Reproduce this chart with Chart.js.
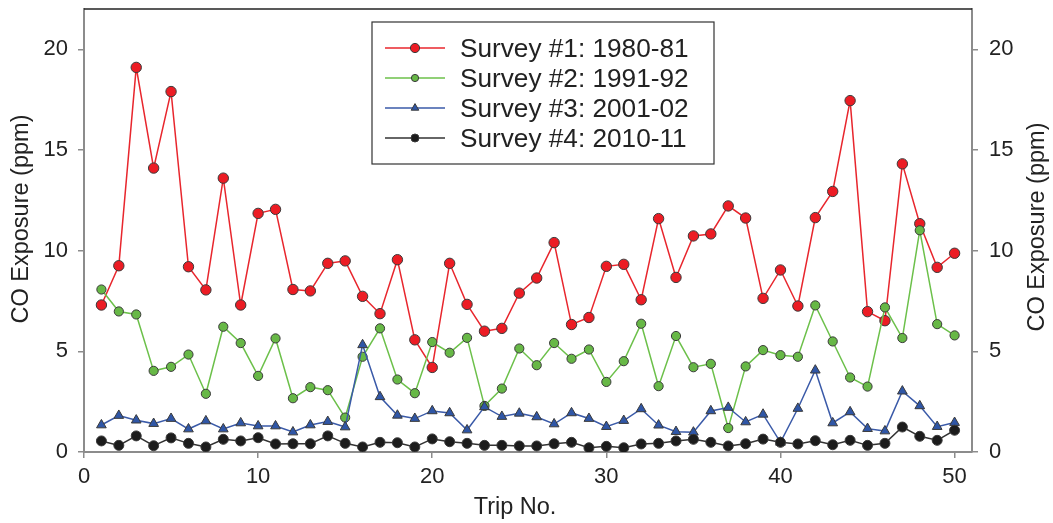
<!DOCTYPE html>
<html><head><meta charset="utf-8">
<script src="https://cdn.jsdelivr.net/npm/chart.js@4.4.1/dist/chart.umd.min.js"></script>
<style>html,body{margin:0;padding:0;background:#fff;}canvas{display:block;}</style>
</head><body>
<canvas id="c" width="1053" height="523"></canvas>
<script>
const trips = [1,2,3,4,5,6,7,8,9,10,11,12,13,14,15,16,17,18,19,20,21,22,23,24,25,26,27,28,29,30,31,32,33,34,35,36,37,38,39,40,41,42,43,44,45,46,47,48,49,50];
const survey1 = [7.3,9.25,19.1,14.1,17.9,9.2,8.05,13.6,7.3,11.85, 12.05,8.07,8.0,9.37,9.49,7.73,6.87,9.55,5.57,4.2, 9.37,7.33,6.0,6.14,7.89,8.64,10.4,6.33,6.68,9.22, 9.32,7.56,11.59,8.67,10.73,10.83,12.22,11.62,7.63,9.04, 7.25,11.64,12.94,17.45,6.97,6.52,14.31,11.34,9.17,9.87];
const survey2 = [8.07,6.98,6.83,4.03,4.23,4.84,2.89,6.22,5.41,3.78, 5.64,2.67,3.22,3.07,1.71,4.73,6.14,3.6,2.92,5.46, 4.93,5.67,2.29,3.15,5.14,4.31,5.41,4.63,5.09,3.48, 4.51,6.37,3.27,5.76,4.21,4.38,1.19,4.25,5.06,4.81, 4.73,7.28,5.49,3.70,3.25,7.18,5.66,11.01,6.35,5.79];
const survey3 = [1.34,1.81,1.58,1.41,1.66,1.14,1.54,1.14,1.44,1.29, 1.29,0.99,1.34,1.51,1.24,5.32,2.74,1.82,1.66,2.04, 1.94,1.09,2.24,1.76,1.92,1.74,1.39,1.94,1.66,1.26, 1.56,2.14,1.33,1.01,0.98,2.04,2.21,1.49,1.87,0.48, 2.16,4.06,1.44,1.99,1.16,1.04,3.02,2.29,1.26,1.46];
const survey4 = [0.55,0.33,0.80,0.31,0.70,0.43,0.25,0.63,0.55,0.71, 0.40,0.41,0.41,0.80,0.43,0.25,0.48,0.46,0.25,0.65, 0.51,0.43,0.33,0.33,0.30,0.30,0.41,0.48,0.21,0.28, 0.21,0.40,0.43,0.55,0.63,0.48,0.30,0.41,0.64,0.48, 0.40,0.56,0.36,0.58,0.33,0.43,1.24,0.78,0.58,1.08];
const seriesLabels = ["Survey #1: 1980-81","Survey #2: 1991-92","Survey #3: 2001-02","Survey #4: 2010-11"];
const xTitle = "Trip No.";
const yTitle = "CO Exposure (ppm)";

const FONT = "'Liberation Sans', Arial, sans-serif";
const AXIS = "#8c8c8c";
const TXT = "#222222";

function pts(vals){ return vals.map((v,i)=>({x:trips[i], y:v})); }

const styles = [
  {line:"#e8262d", fill:"#ec1c24", shape:"circle", r:5.2, lr:4.6, order:4},
  {line:"#6cc04a", fill:"#67b846", shape:"circle", r:4.6, lr:3.6, order:3},
  {line:"#3a5aa8", fill:"#2f56a6", shape:"triangle", r:5.6, lr:4.4, order:2},
  {line:"#333333", fill:"#1c1c1c", shape:"circle", r:5.0, lr:4.0, order:1}
];
const allSeries = [survey1, survey2, survey3, survey4];

const datasets = allSeries.map((s,i)=>({
  label: seriesLabels[i],
  data: pts(s),
  borderColor: styles[i].line,
  backgroundColor: styles[i].fill,
  borderWidth: 1.5,
  pointStyle: styles[i].shape,
  pointRadius: styles[i].r,
  pointBackgroundColor: styles[i].fill,
  pointBorderColor: "#3a3a3a",
  pointBorderWidth: 1,
  tension: 0,
  order: styles[i].order,
  yAxisID: 'y'
}));

function fix(w, h){
  return function(s){
    if (w !== null) s.width = w;
    if (h !== null) s.height = h;
    s.paddingTop = 0; s.paddingBottom = 0; s.paddingLeft = 0; s.paddingRight = 0;
  };
}

const overlay = {
  id: 'overlay',
  afterDraw(chart){
    const ctx = chart.ctx, a = chart.chartArea;
    ctx.save();
    // top border
    ctx.strokeStyle = "#222"; ctx.lineWidth = 1.5;
    ctx.beginPath(); ctx.moveTo(a.left, a.top); ctx.lineTo(a.right, a.top); ctx.stroke();
    // axis titles
    ctx.fillStyle = TXT;
    ctx.font = "23.5px " + FONT;
    ctx.textAlign = "center"; ctx.textBaseline = "alphabetic";
    ctx.fillText(xTitle, 515, 514);
    ctx.save(); ctx.translate(28, 219); ctx.rotate(-Math.PI/2);
    ctx.fillText(yTitle, 0, 0); ctx.restore();
    ctx.save(); ctx.translate(1044, 227); ctx.rotate(-Math.PI/2);
    ctx.fillText(yTitle, 0, 0); ctx.restore();
    // legend
    const bx=372, by=22, bw=342, bh=142;
    ctx.fillStyle = "#fff"; ctx.fillRect(bx,by,bw,bh);
    ctx.strokeStyle = "#333"; ctx.lineWidth = 1.2; ctx.strokeRect(bx,by,bw,bh);
    ctx.font = "26.2px " + FONT; ctx.textAlign = "left";
    chart.data.datasets.forEach((d,i)=>{
      const cy = 48 + i*30;
      ctx.strokeStyle = d.borderColor; ctx.lineWidth = 1.6;
      ctx.beginPath(); ctx.moveTo(385, cy); ctx.lineTo(445, cy); ctx.stroke();
      ctx.fillStyle = d.pointBackgroundColor; ctx.strokeStyle = "#3a3a3a"; ctx.lineWidth = 1;
      Chart.helpers.drawPoint(ctx, {pointStyle: d.pointStyle, radius: styles[i].lr, rotation: 0, borderWidth: 1}, 415, cy);
      ctx.fillStyle = TXT;
      ctx.fillText(d.label, 460, cy + 9.4);
    });
    ctx.restore();
  }
};

new Chart(document.getElementById('c'), {
  type: 'line',
  data: { datasets },
  options: {
    responsive: false,
    animation: false,
    devicePixelRatio: 1,
    layout: { padding: { top: 9, left: 0, right: 0, bottom: 0 } },
    plugins: { legend: { display: false }, tooltip: { enabled: false } },
    scales: {
      x: {
        type: 'linear', min: 0, max: 51, position: 'bottom',
        afterFit: fix(null, 71),
        ticks: { stepSize: 10, includeBounds: false, color: TXT, font: { family: FONT, size: 22 }, padding: 6, maxRotation: 0 },
        grid: { drawOnChartArea: false, drawTicks: true, tickLength: 6, color: AXIS, lineWidth: 1.5 },
        border: { display: true, color: AXIS, width: 2 }
      },
      y: {
        type: 'linear', min: 0, max: 22, position: 'left',
        afterFit: fix(84, null),
        ticks: { stepSize: 5, includeBounds: false, color: TXT, font: { family: FONT, size: 22 }, padding: 10 },
        grid: { drawOnChartArea: false, drawTicks: true, tickLength: 6, color: AXIS, lineWidth: 1.5 },
        border: { display: true, color: AXIS, width: 2 }
      },
      y2: {
        type: 'linear', min: 0, max: 22, position: 'right',
        afterFit: fix(81, null),
        ticks: { stepSize: 5, includeBounds: false, color: TXT, font: { family: FONT, size: 22 }, padding: 11 },
        grid: { drawOnChartArea: false, drawTicks: true, tickLength: 6, color: AXIS, lineWidth: 1.5 },
        border: { display: true, color: AXIS, width: 2 }
      }
    }
  },
  plugins: [overlay]
});
</script>
</body></html>
